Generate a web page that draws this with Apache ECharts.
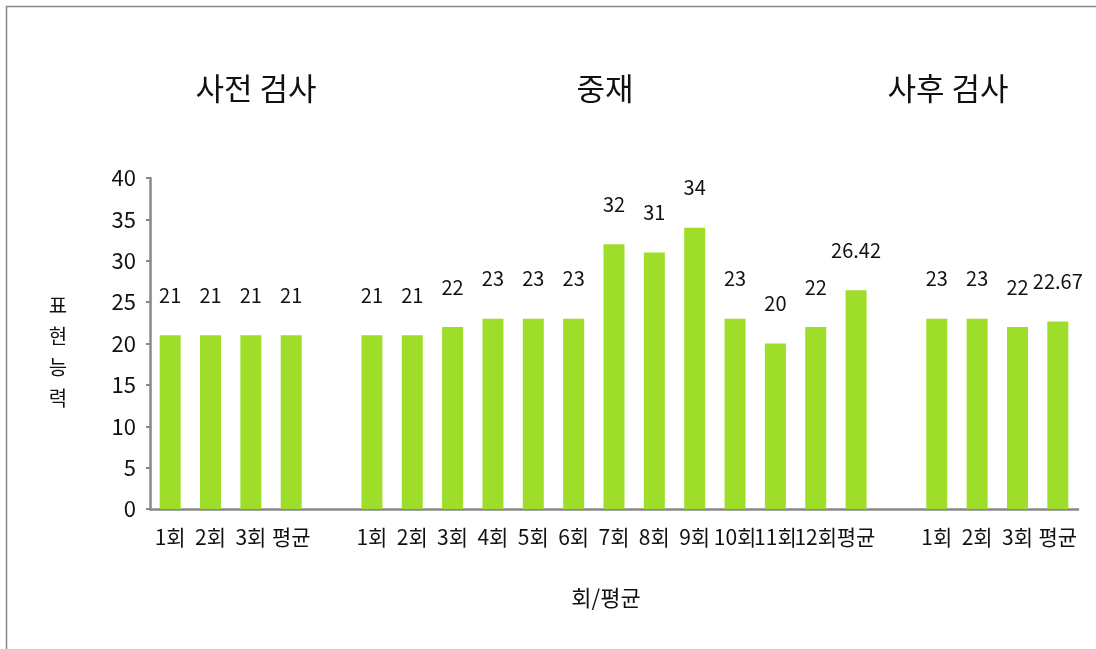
<!DOCTYPE html>
<html><head><meta charset="utf-8">
<script src="https://cdn.jsdelivr.net/npm/echarts@6/dist/echarts.min.js"></script>
<style>html,body{margin:0;padding:0;background:#fff}#c{width:1096px;height:649px}</style>
</head><body><div id="c"></div>
<script>
var categories = ['1회','2회','3회','평균','', '1회','2회','3회','4회','5회','6회','7회','8회','9회','10회','11회','12회','평균','', '1회','2회','3회','평균'];
var values = [21,21,21,21,null, 21,21,22,23,23,23,32,31,34,23,20,22,26.42,null, 23,23,22,22.67];
var groupTitles = ['사전 검사','중재','사후 검사'];
var yTicks = {min:0, max:40, interval:5};
var yName = '표현능력';
var xName = '회/평균';

var font = '"Noto Sans CJK KR", "Noto Sans", sans-serif';
var chart = echarts.init(document.getElementById('c'));
var titlePos = [256, 605, 948];
chart.setOption({
  animation:false,
  backgroundColor:'#fff',
  grid:{left:150, right:18, top:178, bottom:140},
  graphic:[
    {type:'line', shape:{x1:6,y1:6.5,x2:1100,y2:6.5}, style:{stroke:'#888',lineWidth:1.5}},
    {type:'line', shape:{x1:6.5,y1:6,x2:6.5,y2:660}, style:{stroke:'#888',lineWidth:1.5}}
  ].concat(groupTitles.map(function(t,i){
    return {type:'text', x:titlePos[i], y:88, style:{text:t, font:'31px '+font, fill:'#111', textAlign:'center', textVerticalAlign:'middle'}};
  })).concat([
    {type:'text', x:58, y:352, style:{text:yName.split('').join('\n'), font:'20px '+font, fill:'#111', textAlign:'center', textVerticalAlign:'middle', lineHeight:31}},
    {type:'text', x:606, y:598, style:{text:xName, font:'22px '+font, fill:'#111', textAlign:'center', textVerticalAlign:'middle'}}
  ]),
  xAxis:{type:'category', data:categories,
    axisLine:{lineStyle:{color:'#888', width:2.5}},
    axisTick:{show:false},
    axisLabel:{interval:0, color:'#111', fontSize:21, fontFamily:font, margin:18}
  },
  yAxis:{type:'value', min:yTicks.min, max:yTicks.max, interval:yTicks.interval,
    splitLine:{show:false},
    axisLine:{show:true, lineStyle:{color:'#888', width:2.5}},
    axisTick:{show:true, length:4, lineStyle:{color:'#888', width:2}},
    axisLabel:{color:'#111', fontSize:22, fontFamily:font, margin:14}
  },
  series:[{type:'bar', data:values, barWidth:21,
    itemStyle:{color:'#9ede2a'},
    label:{show:true, position:'top', distance:30, color:'#111', fontSize:20, fontFamily:font}
  }]
});
</script></body></html>
